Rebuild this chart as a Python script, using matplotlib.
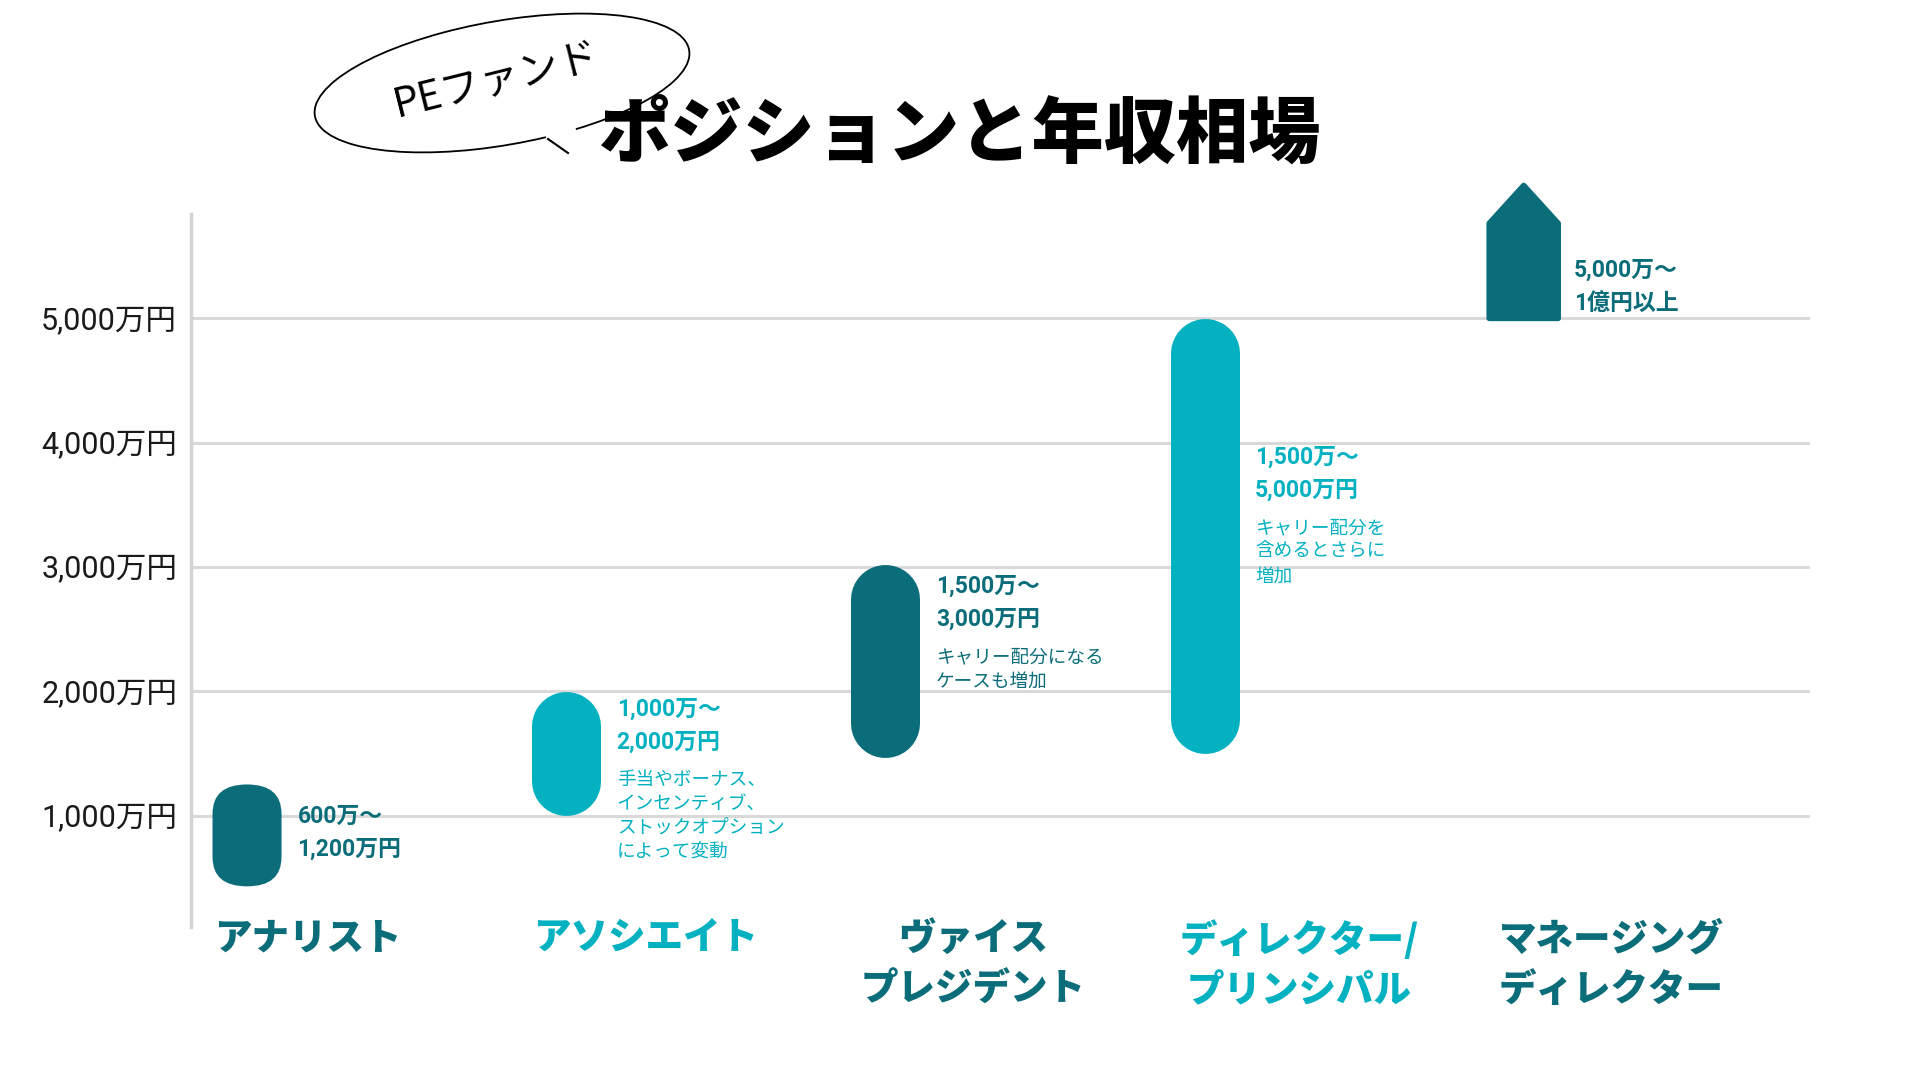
import matplotlib.pyplot as plt
import matplotlib.transforms as mtransforms
from matplotlib.patches import FancyBboxPatch, Polygon, Arc

plt.rcParams['font.family'] = ['Roboto', 'Noto Sans CJK JP', 'DejaVu Sans']
JP = ['Noto Sans CJK JP', 'DejaVu Sans']

# data
categories = ["アナリスト", "アソシエイト", "ヴァイス\nプレジデント",
              "ディレクター/\nプリンシパル", "マネージング\nディレクター"]
bar_low = [430, 1000, 1470, 1500, 5000]
bar_high = [1250, 2000, 3020, 5000, 6070]
range_labels = ["600万～\n1,200万円", "1,000万～\n2,000万円", "1,500万～\n3,000万円",
                "1,500万～\n5,000万円", "5,000万～\n1億円以上"]
notes = ["", "手当やボーナス、\nインセンティブ、\nストックオプション\nによって変動",
         "キャリー配分になる\nケースも増加", "キャリー配分を\n含めるとさらに\n増加", ""]
label_y = [857, 1724, 2709, 3749, 5256]
yticks = [1000, 2000, 3000, 4000, 5000]
ytick_labels = ["1,000万円", "2,000万円", "3,000万円", "4,000万円", "5,000万円"]

DARK = '#0b6d79'
LIGHT = '#03b1c1'
colors = [DARK, LIGHT, DARK, LIGHT, DARK]

fig = plt.figure(figsize=(19.2, 10.8), dpi=100)
ax = fig.add_axes([191 / 1920, 1 - 927 / 1080, 1619 / 1920, 713 / 1080])
ax.set_xlim(-0.1755, 4.897)
ax.set_ylim(103, 5840)

# pixel scales, used for round ends
px_x = 1619 / (4.897 + 0.1755)
px_y = 713 / (5840 - 103)
asp = px_x / px_y
w_px = 69
w = w_px / px_x
r = (w_px / 2) / px_y   # cap radius in data units

for i in range(len(categories)):
    lo, hi, c = bar_low[i], bar_high[i], colors[i]
    if i == len(categories) - 1:
        roof = hi - (w / 2) * asp * 1.1
        pts = [(i - w / 2, lo), (i + w / 2, lo), (i + w / 2, roof), (i, hi), (i - w / 2, roof)]
        ax.add_patch(Polygon(pts, closed=True, fc=c, ec=c, lw=4, joinstyle='round',
                             clip_on=False, zorder=3))
    elif i == 0:
        # short bar: flatter ends
        ax.add_patch(FancyBboxPatch((i - w / 2, lo), w, hi - lo,
                                    boxstyle=f"round,pad=0,rounding_size={w / 2}",
                                    mutation_aspect=asp * 0.85, fc=c, ec='none', zorder=3))
    else:
        ax.plot([i, i], [lo + r, hi - r], color=c, lw=w_px * 72 / 100,
                solid_capstyle='round', zorder=3)

    ax.annotate(range_labels[i], xy=(i + w / 2, label_y[i]), xytext=(16, 0),
                textcoords='offset pixels', ha='left', va='center', fontsize=16.5,
                fontweight='bold', color=c, linespacing=1.55, zorder=4)
    if notes[i]:
        ax.annotate(notes[i], xy=(i + w / 2, label_y[i]), xytext=(16, -45),
                    textcoords='offset pixels', ha='left', va='top', fontsize=13.4,
                    color=c, linespacing=1.45, family=JP, zorder=4)

# category names under the axis
trans = mtransforms.blended_transform_factory(ax.transData, fig.transFigure)
for i, cat in enumerate(categories):
    dx = 0.005 if '\n' not in cat else 0.03
    ax.text(i - w / 2 + dx, 1 - 920 / 1080, cat, transform=trans, ha='left', va='top',
            multialignment='center', fontsize=27, fontweight='black', color=colors[i],
            linespacing=1.42, family=JP)

ax.set_yticks(yticks)
ax.set_yticklabels(ytick_labels, fontsize=22, color='#1a1a1a')
ax.set_xticks([])
ax.tick_params(axis='y', length=0, pad=10)
ax.grid(axis='y', color='#d9d9d9', lw=2.2)
ax.set_axisbelow(True)
for s in ['top', 'right', 'bottom']:
    ax.spines[s].set_visible(False)
ax.spines['left'].set_color('#d4d4d4')
ax.spines['left'].set_linewidth(2.5)

# title and speech bubble
fig.text(0.5, 1 - 135 / 1080, "ポジションと年収相場", ha='center', va='center',
         fontsize=52, fontweight='black', color='black', family=JP)

ov = fig.add_axes([0, 0, 1, 1], facecolor='none')
ov.set_xlim(0, 1920)
ov.set_ylim(0, 1080)
ov.axis('off')
ov.add_patch(Arc((502, 1080 - 83), 380, 124, angle=10, theta1=318, theta2=299 + 360,
                 color='black', lw=1.3))
ov.plot([548, 568], [1080 - 139, 1080 - 153], color='black', lw=1.5)
ov.text(496, 1080 - 80, "PEファンド", ha='center', va='center', rotation=14,
        fontsize=29, color='black', family=JP)

fig.savefig('out.png', dpi=100)
